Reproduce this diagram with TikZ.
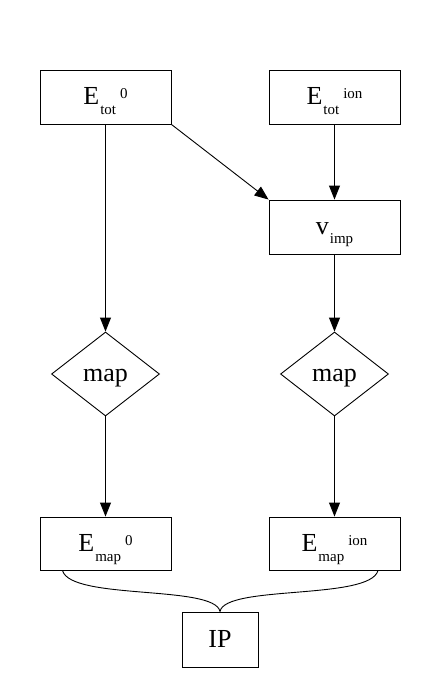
\documentclass[tikz,border=0pt]{standalone}
\usepackage{fontspec}
\setmainfont{Liberation Serif}
\usepackage{tikz}
\usetikzlibrary{shapes.geometric, arrows.meta}

\newcommand{\subfont}{\fontsize{15}{15}\selectfont}
\newcommand{\sublbl}[3]{#1\kern1pt\raisebox{-10pt}{\subfont #2}\kern4pt\raisebox{6pt}{\subfont #3}}

\tikzset{
    >={Triangle[length=14pt,width=11pt]},
    every node/.style={font=\fontsize{26}{26}\selectfont, text height=19pt, text depth=4pt},
    block/.style={draw, rectangle, inner sep=0pt, line width=0.9pt},
    decision/.style={draw, diamond, inner sep=0pt, line width=0.9pt, minimum width=108pt, minimum height=84pt},
}

\begin{document}
\begin{tikzpicture}[x=1pt, y=1pt]
    \useasboundingbox (0,0) rectangle (438,-694);

    \node[block, minimum width=131pt, minimum height=54pt] (etot0) at (105.5,-97) {\sublbl{E}{tot}{0}};
    \node[block, minimum width=131pt, minimum height=54pt] (etotion) at (334.5,-97) {\sublbl{E}{tot}{ion}};
    \node[block, minimum width=131pt, minimum height=54pt] (vimp) at (334.5,-227) {v\kern1pt\raisebox{-9pt}{\subfont imp}};

    \node[decision] (map0) at (105.5,-374) {map};
    \node[decision] (mapion) at (334.5,-374) {map};

    \node[block, minimum width=131pt, minimum height=53pt] (emap0) at (105.5,-543.5) {\sublbl{E}{map}{0}};
    \node[block, minimum width=131pt, minimum height=53pt] (emapion) at (334.5,-543.5) {\sublbl{E}{map}{ion}};

    \node[block, minimum width=76pt, minimum height=55pt] (ip) at (220,-639.5) {IP};

    \draw[->, line width=0.9pt] (etot0) -- (map0);
    \draw[->, line width=0.9pt] (etot0.south east) -- (vimp.north west);
    \draw[->, line width=0.9pt] (etotion) -- (vimp);
    \draw[->, line width=0.9pt] (vimp) -- (mapion);
    \draw[->, line width=0.9pt] (map0) -- (emap0);
    \draw[->, line width=0.9pt] (mapion) -- (emapion);

    \coordinate (out0) at ([xshift=-43pt]emap0.south);
    \coordinate (oution) at ([xshift=43.5pt]emapion.south);
    \draw[line width=0.9pt] (out0) .. controls +(8,-30) and +(-5,27) .. (ip.north);
    \draw[line width=0.9pt] (oution) .. controls +(-8,-30) and +(5,27) .. (ip.north);
\end{tikzpicture}
\end{document}
